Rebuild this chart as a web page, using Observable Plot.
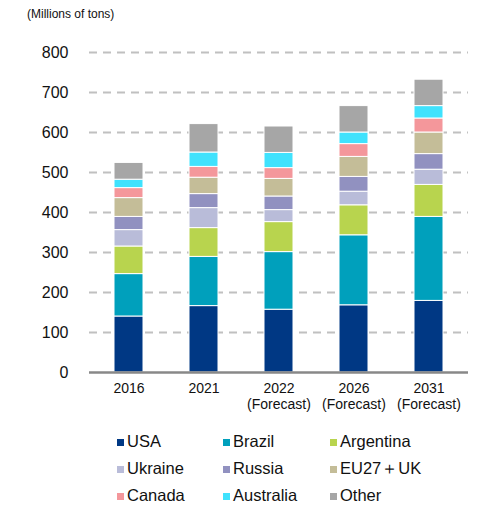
<!DOCTYPE html>
<html>
<head>
<meta charset="utf-8">
<script src="https://cdn.jsdelivr.net/npm/d3@7"></script>
<script src="https://cdn.jsdelivr.net/npm/@observablehq/plot@0.6"></script>
<style>
  body { margin: 0; background: #fff; font-family: "Liberation Sans", Arial, sans-serif; }
  #wrap { position: relative; width: 477px; height: 507px; }
  #title { position: absolute; left: 27px; top: 7px; font-size: 12px; color: #111; }
  #chart { position: absolute; left: 0; top: 0; }
  #legend { position: absolute; left: 0; top: 0; width: 477px; height: 507px; pointer-events: none; }
  .li { position: absolute; font-size: 16.5px; color: #111; line-height: 1; white-space: nowrap; }
  .sw { position: absolute; width: 7px; height: 7px; }
</style>
</head>
<body>
<div id="wrap">
  <div id="chart"></div>
  <div id="title">(Millions of tons)</div>
  <div id="legend"></div>
</div>
<script>
const years = ["2016", "2021", "2022", "2026", "2031"];
const xLabels = ["2016", "2021", "2022\n(Forecast)", "2026\n(Forecast)", "2031\n(Forecast)"];
const series = ["USA", "Brazil", "Argentina", "Ukraine", "Russia", "EU27＋UK", "Canada", "Australia", "Other"];
const colors = ["#003884", "#00a0bc", "#b8d44e", "#b9bcd9", "#9191c0", "#c4bd98", "#f4979b", "#40e2fd", "#a6a6a6"];
const USA       = [140, 166, 157, 168, 179];
const Brazil    = [106, 123, 144, 175, 210];
const Argentina = [69, 72, 75, 75, 80];
const Ukraine   = [41, 50, 30, 34, 38];
const Russia    = [33, 35, 34, 37, 39];
const EU27UK    = [47, 41, 44, 50, 54];
const Canada    = [25, 27, 27, 32, 35];
const Australia = [21, 36, 38, 29, 31];
const Other     = [42, 71, 66, 66, 66];
const yTicks = [0, 100, 200, 300, 400, 500, 600, 700, 800];

const valuesBySeries = [USA, Brazil, Argentina, Ukraine, Russia, EU27UK, Canada, Australia, Other];
const data = [];
series.forEach((s, i) => years.forEach((y, j) => data.push({year: y, series: s, value: valuesBySeries[i][j]})));

const chart = Plot.plot({
  width: 477,
  height: 420,
  marginTop: 52,
  marginBottom: 48,
  marginLeft: 89,
  marginRight: 9,
  style: {fontFamily: "Liberation Sans, Arial, sans-serif", color: "#111", background: "transparent"},
  x: {domain: years, paddingInner: 0.62, paddingOuter: 0.31, label: null},
  y: {domain: [0, 800], label: null},
  color: {domain: series, range: colors},
  marks: [
    Plot.ruleY(yTicks.filter(d => d > 0), {stroke: "#c0c0c0", strokeWidth: 2, strokeDasharray: "8,6"}),
    Plot.barY(data, Plot.stackY({order: series}, {x: "year", y: "value", fill: "series", stroke: "#fff", strokeWidth: 1})),
    Plot.ruleY([0], {stroke: "#888", strokeWidth: 2.5}),
    Plot.axisY({ticks: yTicks, tickSize: 0, tickPadding: 21, fontSize: 16, label: null}),
    Plot.axisX({tickSize: 0, tickPadding: 10, fontSize: 14, label: null, lineHeight: 1.1,
      tickFormat: d => xLabels[years.indexOf(d)]})
  ]
});
document.getElementById("chart").appendChild(chart);

const legend = document.getElementById("legend");
const colX = [117, 223, 330];
const rowY = [442, 469, 496];
series.forEach((s, i) => {
  const c = i % 3, r = Math.floor(i / 3);
  const sw = document.createElement("div");
  sw.className = "sw";
  sw.style.left = colX[c] + "px";
  sw.style.top = (rowY[r] - 3.5) + "px";
  sw.style.background = colors[i];
  legend.appendChild(sw);
  const t = document.createElement("div");
  t.className = "li";
  t.textContent = s;
  t.style.left = (colX[c] + 10) + "px";
  t.style.top = (rowY[r] - 9) + "px";
  legend.appendChild(t);
});
</script>
</body>
</html>
